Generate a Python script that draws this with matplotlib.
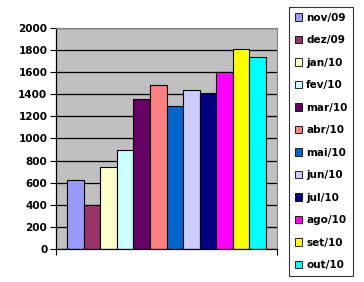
import matplotlib.pyplot as plt
from matplotlib.patches import Patch

months = ['nov/09', 'dez/09', 'jan/10', 'fev/10', 'mar/10', 'abr/10',
          'mai/10', 'jun/10', 'jul/10', 'ago/10', 'set/10', 'out/10']
values = [625, 395, 740, 893, 1357, 1484, 1291, 1439, 1409, 1602, 1810, 1738]
colors = ['#9999FF', '#993366', '#FFFFCC', '#CCFFFF', '#660066', '#FF8080',
          '#0066CC', '#CCCCFF', '#000080', '#FF00FF', '#FFFF00', '#00FFFF']
yticks = [0, 200, 400, 600, 800, 1000, 1200, 1400, 1600, 1800, 2000]

fig = plt.figure(figsize=(3.64, 2.82), dpi=100)
ax = fig.add_axes([0.153, 0.117, 0.608, 0.784])
ax.set_facecolor('#C0C0C0')

# horizontal grid lines behind bars
ax.set_axisbelow(True)
ax.yaxis.grid(True, color='black', linewidth=0.9)

x = list(range(len(values)))
ax.bar(x, values, width=1.0, color=colors, edgecolor='black', linewidth=0.8)

ax.set_xlim(-0.5 - 0.68, 11.5 + 0.66)
ax.set_ylim(0, 2000)
ax.set_yticks(yticks)
ax.set_yticklabels([str(v) for v in yticks], fontsize=7.5, fontweight='bold')
ax.set_xticks([-0.5 - 0.68, 11.5 + 0.66])
ax.set_xticklabels(['', ''])
ax.tick_params(axis='y', length=4, width=0.8, direction='out', pad=2)
ax.tick_params(axis='x', length=4, width=0.8, direction='out')

for side in ['top', 'right']:
    ax.spines[side].set_color('#808080')
    ax.spines[side].set_linewidth(0.8)
ax.spines['left'].set_linewidth(0.9)
ax.spines['bottom'].set_linewidth(0.9)

handles = [Patch(facecolor=c, edgecolor='black', linewidth=0.6) for c in colors]
leg = fig.legend(handles, months, loc='upper left',
                 bbox_to_anchor=(289 / 364, 1 - 7 / 282),
                 prop={'size': 7.5, 'weight': 'bold'},
                 frameon=True, fancybox=False, edgecolor='black',
                 handlelength=0.7, handleheight=0.7, handletextpad=0.4,
                 labelspacing=1.2, borderpad=0.55, borderaxespad=0)
leg.get_frame().set_linewidth(0.8)

fig.savefig('out.png', dpi=100)
